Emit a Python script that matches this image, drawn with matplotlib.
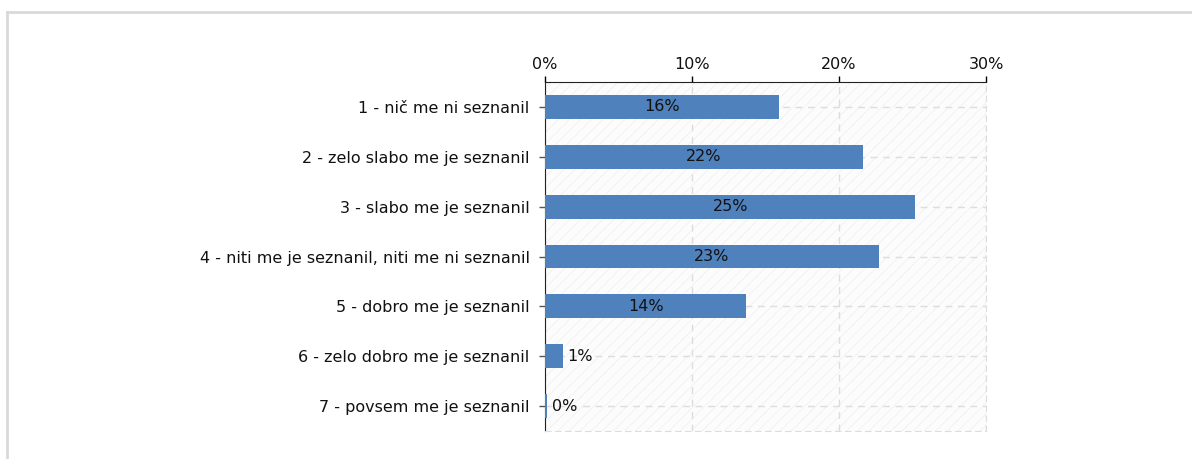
import matplotlib.pyplot as plt
from matplotlib.patches import Rectangle
from matplotlib.lines import Line2D

categories = [
    "1 - nič me ni seznanil",
    "2 - zelo slabo me je seznanil",
    "3 - slabo me je seznanil",
    "4 - niti me je seznanil, niti me ni seznanil",
    "5 - dobro me je seznanil",
    "6 - zelo dobro me je seznanil",
    "7 - povsem me je seznanil",
]
values = [15.9, 21.6, 25.2, 22.7, 13.7, 1.2, 0.15]
value_labels = ["16%", "22%", "25%", "23%", "14%", "1%", "0%"]
xticks = [0, 10, 20, 30]
xtick_labels = ["0%", "10%", "20%", "30%"]

plt.rcParams["hatch.linewidth"] = 0.5
fs = 11.5

fig = plt.figure(figsize=(11.92, 4.59), dpi=100)
ax = fig.add_axes([545 / 1192, 1 - 431 / 459, 441 / 1192, 349 / 459])

# outer frame of the chart panel
fig.add_artist(Line2D([7 / 1192, 7 / 1192], [0, 1 - 12 / 459], transform=fig.transFigure,
                      color="#d9d9d9", lw=2))
fig.add_artist(Line2D([7 / 1192, 1], [1 - 12 / 459, 1 - 12 / 459], transform=fig.transFigure,
                      color="#d9d9d9", lw=2))

# hatched plot background
ax.add_patch(Rectangle((0, 0), 1, 1, transform=ax.transAxes, facecolor="#fcfcfc",
                       edgecolor="#efefef", hatch="///", lw=0, zorder=0))

ypos = list(range(len(categories)))
ax.barh(ypos, values, height=0.48, color="#4f81bd", zorder=3)

for y, v, lab in zip(ypos, values, value_labels):
    if v > 5:
        ax.text(v / 2, y, lab, ha="center", va="center", fontsize=fs, color="#111111", zorder=4)
    else:
        ax.text(v + 0.3, y, lab, ha="left", va="center", fontsize=fs, color="#111111", zorder=4)

ax.set_xlim(0, 30)
ax.set_ylim(6.5, -0.5)
ax.set_yticks(ypos)
ax.set_yticklabels(categories, fontsize=fs, color="#111111")
ax.set_xticks(xticks)
ax.set_xticklabels(xtick_labels, fontsize=fs, color="#111111")
ax.xaxis.tick_top()
ax.tick_params(axis="x", length=4, width=1, pad=3)
ax.tick_params(axis="y", length=4, width=1, pad=7, color="#555555")

ax.grid(True, axis="both", linestyle=(0, (5, 4)), color="#dddddd", lw=1, zorder=1)
ax.set_axisbelow(True)

for s in ["bottom", "right"]:
    ax.spines[s].set_color("#dddddd")
    ax.spines[s].set_linestyle((0, (5, 4)))
ax.spines["top"].set_color("#222222")
ax.spines["left"].set_color("#222222")

fig.savefig("out.png", dpi=100)
